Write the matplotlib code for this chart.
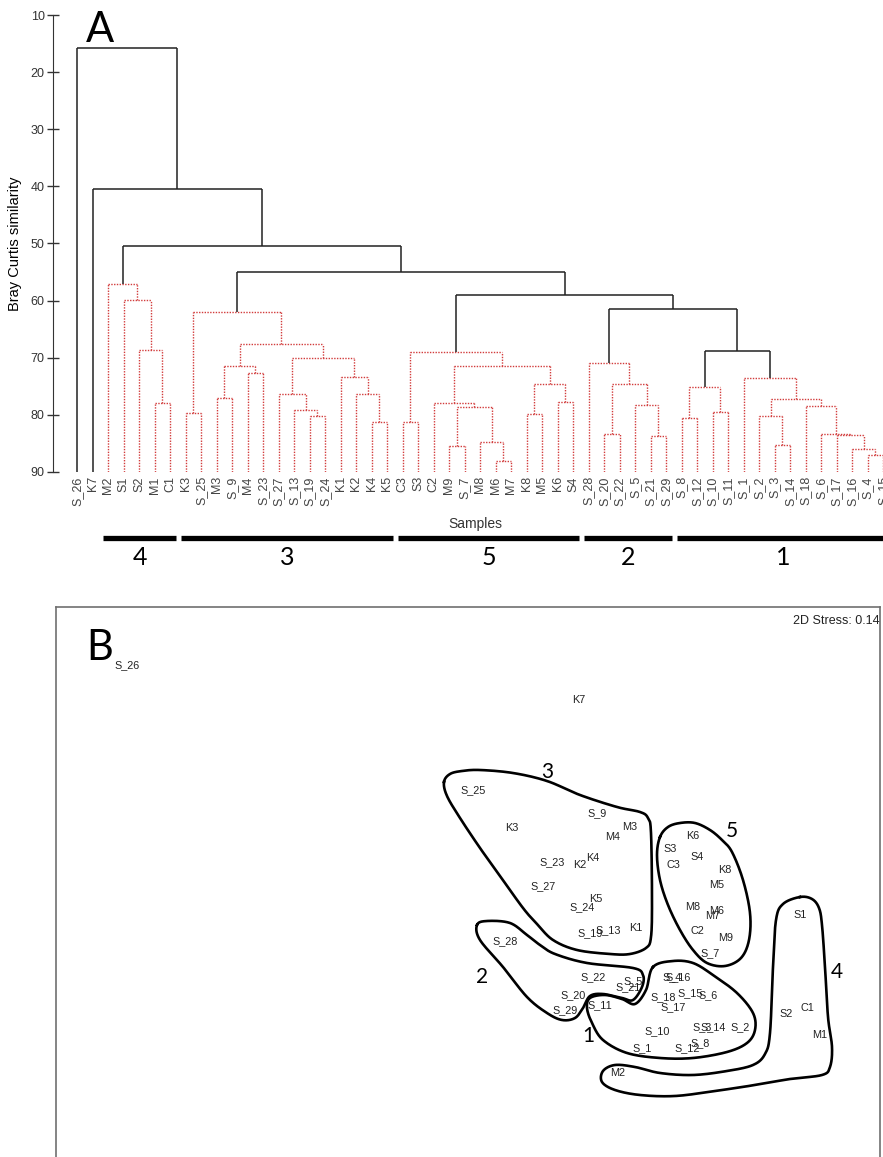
import numpy as np
import matplotlib
matplotlib.use("Agg")
import matplotlib.pyplot as plt
from matplotlib.transforms import blended_transform_factory

# ---- dendrogram data (Bray Curtis similarity, group average) ----
leaves = ["S_26", "K7", "M2", "S1", "S2", "M1", "C1", "K3", "S_25", "M3", "S_9", "M4",
          "S_23", "S_27", "S_13", "S_19", "S_24", "K1", "K2", "K4", "K5", "C3", "S3", "C2",
          "M9", "S_7", "M8", "M6", "M7", "K8", "M5", "K6", "S4", "S_28", "S_20", "S_22",
          "S_5", "S_21", "S_29", "S_8", "S_12", "S_10", "S_11", "S_1", "S_2", "S_3", "S_14",
          "S_18", "S_6", "S_17", "S_16", "S_4", "S_15"]

# (node, left, right, similarity)
merges = [
    ("g4a", "M1", "C1", 77.9), ("g4b", "S2", "g4a", 68.7),
    ("g4c", "S1", "g4b", 59.9), ("g4", "M2", "g4c", 57.1),
    ("g3a", "K3", "S_25", 79.6), ("g3b", "M3", "S_9", 77.1),
    ("g3c", "M4", "S_23", 72.6), ("g3d", "g3b", "g3c", 71.4),
    ("g3e", "S_19", "S_24", 80.2), ("g3f", "S_13", "g3e", 79.2),
    ("g3g", "S_27", "g3f", 76.3), ("g3h", "K4", "K5", 81.3),
    ("g3i", "K2", "g3h", 76.3), ("g3j", "K1", "g3i", 73.3),
    ("g3k", "g3g", "g3j", 70.0), ("g3l", "g3d", "g3k", 67.6),
    ("g3", "g3a", "g3l", 62.0),
    ("g5a", "C3", "S3", 81.3), ("g5b", "M9", "S_7", 85.5),
    ("g5c", "M6", "M7", 88.0), ("g5d", "M8", "g5c", 84.8),
    ("g5e", "g5b", "g5d", 78.6), ("g5f", "C2", "g5e", 77.9),
    ("g5g", "K8", "M5", 79.9), ("g5h", "K6", "S4", 77.8),
    ("g5i", "g5g", "g5h", 74.6), ("g5j", "g5f", "g5i", 71.4),
    ("g5", "g5a", "g5j", 69.0),
    ("g2a", "S_20", "S_22", 83.3), ("g2b", "S_21", "S_29", 83.7),
    ("g2c", "S_5", "g2b", 78.3), ("g2d", "g2a", "g2c", 74.6),
    ("g2", "S_28", "g2d", 70.9),
    ("g1a", "S_8", "S_12", 80.5), ("g1b", "S_10", "S_11", 79.5),
    ("g1c", "g1a", "g1b", 75.1), ("g1d", "S_3", "S_14", 85.3),
    ("g1e", "S_2", "g1d", 80.2), ("g1f", "S_4", "S_15", 87.0),
    ("g1g", "S_16", "g1f", 86.0), ("g1h", "S_17", "g1g", 83.5),
    ("g1i", "S_6", "g1h", 83.3), ("g1j", "S_18", "g1i", 78.4),
    ("g1k", "g1e", "g1j", 77.3), ("g1l", "S_1", "g1k", 73.5),
    ("n1", "g1c", "g1l", 68.8), ("n2", "g2", "n1", 61.4),
    ("n3", "g5", "n2", 59.0), ("n4", "g3", "n3", 55.0),
    ("n5", "g4", "n4", 50.4), ("n6", "K7", "n5", 40.5),
    ("root", "S_26", "n6", 15.8),
]
significant = ["n1", "n2", "n3", "n4", "n5", "n6", "root"]

group_names = ["4", "3", "5", "2", "1"]
group_first = ["M2", "K3", "C3", "S_28", "S_8"]
group_last = ["C1", "K5", "S4", "S_29", "S_15"]

# ---- nMDS data ----
nmds_labels = leaves
nmds_x = [-3.43, 1.09, 1.48, 3.30, 3.16, 3.50, 3.37, 0.42, 0.03, 1.60, 1.27, 1.43,
          0.82, 0.73, 1.38, 1.20, 1.12, 1.66, 1.10, 1.23, 1.26, 2.03, 2.00, 2.27,
          2.56, 2.40, 2.23, 2.47, 2.43, 2.55, 2.47, 2.23, 2.27, 0.35, 1.03, 1.23,
          1.63, 1.58, 0.95, 2.30, 2.17, 1.87, 1.30, 1.72, 2.70, 2.32, 2.43,
          1.93, 2.38, 2.03, 2.08, 2.02, 2.20]
nmds_y = [1.95, 1.60, -2.13, -0.55, -1.54, -1.75, -1.48, 0.32, 0.70, 0.33, 0.47, 0.23,
          -0.02, -0.26, -0.70, -0.73, -0.47, -0.68, -0.05, 0.02, -0.39, -0.05, 0.11, -0.71,
          -0.78, -0.93, -0.47, -0.51, -0.56, -0.10, -0.25, 0.24, 0.03, -0.81, -1.35, -1.17,
          -1.21, -1.27, -1.50, -1.83, -1.88, -1.71, -1.45, -1.88, -1.67, -1.67, -1.67,
          -1.37, -1.35, -1.47, -1.17, -1.17, -1.33]
stress = 0.14

hull_names = ["3", "5", "2", "1", "4"]
hull_label_x = [0.77, 2.62, 0.12, 1.18, 3.67]
hull_label_y = [0.88, 0.29, -1.17, -1.76, -1.12]
hull_3 = [(-0.26, 0.78), (-0.20, 0.86), (-0.08, 0.89), (0.10, 0.90), (0.43, 0.87), (0.77, 0.79),
          (1.10, 0.65), (1.47, 0.53), (1.70, 0.48), (1.78, 0.42), (1.81, 0.27), (1.82, -0.40),
          (1.81, -0.77), (1.76, -0.88), (1.60, -0.94), (1.40, -0.94), (1.07, -0.90), (0.83, -0.80),
          (0.67, -0.64), (0.53, -0.48), (0.30, -0.16), (0.10, 0.12), (-0.10, 0.42), (-0.23, 0.64)]
hull_5 = [(1.90, 0.23), (1.98, 0.33), (2.10, 0.37), (2.25, 0.37), (2.40, 0.30), (2.52, 0.20),
          (2.62, 0.08), (2.73, -0.20), (2.80, -0.53), (2.79, -0.80), (2.71, -0.98), (2.55, -1.06),
          (2.37, -1.03), (2.23, -0.90), (2.10, -0.70), (1.98, -0.45), (1.90, -0.20), (1.87, 0.05)]
hull_2 = [(0.07, -0.65), (0.17, -0.61), (0.40, -0.63), (0.57, -0.75), (0.70, -0.85), (0.85, -0.94),
          (1.17, -1.03), (1.63, -1.08), (1.73, -1.15), (1.72, -1.27), (1.63, -1.40), (1.52, -1.38),
          (1.33, -1.34), (1.20, -1.36), (1.13, -1.48), (1.05, -1.58), (0.92, -1.60), (0.77, -1.53),
          (0.57, -1.37), (0.33, -1.07), (0.10, -0.80)]
hull_1 = [(1.83, -1.07), (2.03, -1.01), (2.23, -1.03), (2.43, -1.15), (2.67, -1.33), (2.83, -1.53),
          (2.85, -1.70), (2.77, -1.83), (2.57, -1.92), (2.23, -1.98), (1.90, -1.98), (1.57, -1.93),
          (1.33, -1.80), (1.22, -1.63), (1.17, -1.48), (1.20, -1.38), (1.35, -1.35), (1.52, -1.39),
          (1.65, -1.44), (1.76, -1.30)]
hull_4 = [(3.30, -0.37), (3.42, -0.39), (3.49, -0.48), (3.52, -0.65), (3.55, -1.07), (3.58, -1.57),
          (3.62, -1.87), (3.60, -2.07), (3.52, -2.15), (3.20, -2.19), (2.85, -2.25), (2.45, -2.31),
          (2.05, -2.36), (1.70, -2.35), (1.45, -2.30), (1.32, -2.22), (1.33, -2.11), (1.45, -2.05),
          (1.65, -2.07), (1.90, -2.13), (2.23, -2.15), (2.57, -2.11), (2.83, -2.05), (2.95, -1.94),
          (3.00, -1.73), (3.03, -1.07), (3.06, -0.60), (3.13, -0.44)]
hulls = [hull_3, hull_5, hull_2, hull_1, hull_4]


def smooth_closed(pts, n=24):
    # closed Catmull-Rom curve through the outline points
    p = np.asarray(pts, dtype=float)
    N = len(p)
    t = np.linspace(0, 1, n, endpoint=False)[:, None]
    segs = []
    for i in range(N):
        p0, p1, p2, p3 = p[i - 1], p[i], p[(i + 1) % N], p[(i + 2) % N]
        segs.append(0.5 * (2 * p1 + (-p0 + p2) * t + (2 * p0 - 5 * p1 + 4 * p2 - p3) * t ** 2
                           + (-p0 + 3 * p1 - 3 * p2 + p3) * t ** 3))
    out = np.vstack(segs)
    return np.vstack([out, out[:1]])


W, H = 883, 1157
fig = plt.figure(figsize=(W / 100, H / 100), dpi=100)
label_font = ["Liberation Sans", "DejaVu Sans"]
big_font = ["Lato", "DejaVu Sans"]

# ================= A: dendrogram =================
ax = fig.add_axes([53 / W, 1 - 472 / H, (W - 53) / W, 457 / H])
pos = {name: float(i) for i, name in enumerate(leaves)}
height = {name: 90.0 for name in leaves}
for node, left, right, sim in merges:
    pos[node] = (pos[left] + pos[right]) / 2
    height[node] = sim

black = dict(color="#222222", lw=1.1, solid_capstyle="butt")
red = dict(color="#d23c3c", lw=1.0, ls=(0, (1, 1)))
for node, left, right, sim in merges:
    st = black if node in significant else red
    ax.plot([pos[left], pos[right]], [sim, sim], **st)
    for child in (left, right):
        ax.plot([pos[child], pos[child]], [height[child], sim], **st)

ax.set_xlim(-1.55, 51.9)
ax.set_ylim(90, 10)
ax.set_yticks(np.arange(10, 91, 10))
ax.tick_params(axis="y", direction="inout", length=8, width=1, colors="#333333",
               labelsize=9, pad=2)
ax.set_xticks(range(len(leaves)))
ax.set_xticklabels(leaves, rotation=90, fontsize=9, color="#444444", family=label_font)
ax.tick_params(axis="x", length=0, pad=3)
for lab in ax.get_yticklabels():
    lab.set_family(label_font)
for s in ["top", "right", "bottom"]:
    ax.spines[s].set_visible(False)
ax.spines["left"].set_color("#333333")
ax.set_ylabel("Bray Curtis similarity", fontsize=10.5, family=label_font, labelpad=6)
ax.set_xlabel("Samples", fontsize=10, family=label_font, color="#333333")
ax.xaxis.set_label_coords(0.509, -0.098)

trans = blended_transform_factory(ax.transData, ax.transAxes)
for name, first, last in zip(group_names, group_first, group_last):
    x0 = leaves.index(first) - 0.3
    x1 = leaves.index(last) + 0.4
    ax.plot([x0, x1], [-0.1444, -0.1444], color="black", lw=3.8, solid_capstyle="butt",
            transform=trans, clip_on=False)
    ax.text((x0 + x1) / 2, -0.204, name, transform=trans, ha="center", va="baseline",
            fontsize=18, family=big_font)

fig.text(100 / W, 1 - 42 / H, "A", fontsize=30, family=big_font, ha="center", va="baseline")

# ================= B: nMDS =================
bx = fig.add_axes([56 / W, 1 - 1170 / H, (880 - 56) / W, (1170 - 607) / H])
bx.set_xlim(-4.14, 4.10)
bx.set_ylim(-3.10, 2.53)
bx.set_xticks([])
bx.set_yticks([])
for s in bx.spines.values():
    s.set_color("#707070")
    s.set_linewidth(1.2)

for lab, x, y in zip(nmds_labels, nmds_x, nmds_y):
    bx.text(x, y, lab, ha="center", va="center", fontsize=7.8, family=label_font,
            color="#222222")

for pts, name, lx, ly in zip(hulls, hull_names, hull_label_x, hull_label_y):
    c = smooth_closed(pts)
    bx.plot(c[:, 0], c[:, 1], color="black", lw=1.9)
    bx.text(lx, ly, name, ha="center", va="center", fontsize=15, family=big_font)

bx.text(0.9995, 0.975, f"2D Stress: {stress}", transform=bx.transAxes, ha="right", va="center",
        fontsize=9, family=label_font, color="#222222")
fig.text(100 / W, 1 - 660 / H, "B", fontsize=30, family=big_font, ha="center", va="baseline")

fig.savefig("out.png", dpi=100)
